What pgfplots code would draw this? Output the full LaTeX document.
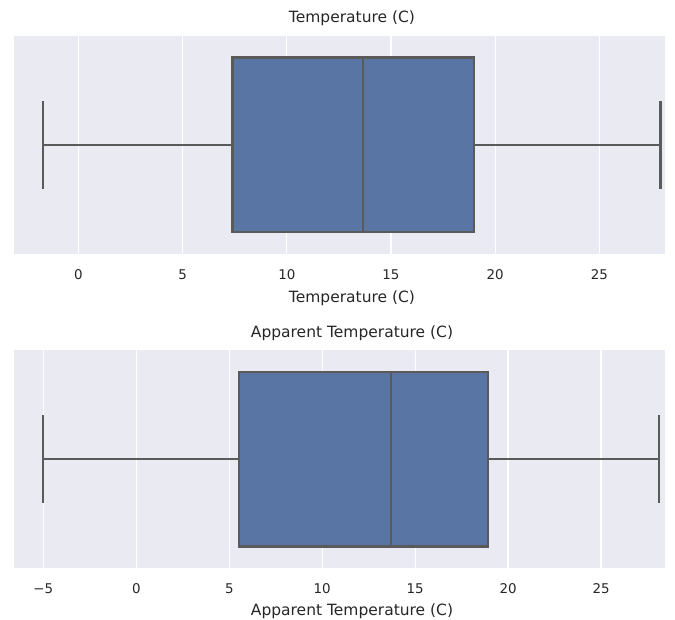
\documentclass[border=0pt]{standalone}
\usepackage{pgfplots}
\pgfplotsset{compat=1.18}
\usepgfplotslibrary{statistics}
\usepackage{fontspec}
\setmainfont{DejaVu Sans}
\definecolor{bg}{HTML}{EAEAF2}
\definecolor{boxblue}{HTML}{5975A4}
\definecolor{linegray}{HTML}{5A5A5A}
\definecolor{txt}{HTML}{262626}
\pgfplotsset{sbstyle/.style={
  scale only axis, width=651pt, height=218.3pt,
  axis background/.style={fill=bg},
  axis line style={draw=none},
  tick style={draw=none},
  ymin=-0.5, ymax=0.5, ytick=\empty,
  xmajorgrids, grid style={white, line width=1.3pt},
  /pgf/number format/assume math mode=true,
  xticklabel style={font=\fontsize{13.4}{14}\selectfont, text=txt, anchor=base, yshift=-25.5pt},
  xlabel style={font=\fontsize{15.5}{17}\selectfont, text=txt, at={(axis description cs:0.5,0)}, anchor=base, xshift=12.5pt},
  title style={font=\fontsize{15.5}{17}\selectfont, text=txt, at={(axis description cs:0.5,1)}, anchor=base, xshift=12.5pt},
  boxplot/draw direction=x,
}}
\begin{document}
\begin{tikzpicture}
\path[use as bounding box] (0,0) rectangle (675pt,619pt);
\begin{axis}[sbstyle, at={(14pt,365pt)}, anchor=south west,
  xmin=-3.09, xmax=28.15,
  xtick={0,5,10,15,20,25}, xticklabels={0,5,10,15,20,25},
  title={Temperature (C)}, title style={yshift=7.4pt},
  xlabel={Temperature (C)}, xlabel style={yshift=-49pt}]
\addplot[boxplot prepared={draw position=0, lower whisker=-1.68, lower quartile=7.40, median=13.67, upper quartile=18.98, upper whisker=27.93, box extend=0.8, whisker extend=0.4},
  draw=linegray, fill=boxblue, line width=2.2pt, solid] coordinates {};
\end{axis}
\begin{axis}[sbstyle, at={(14pt,50.7pt)}, anchor=south west,
  xmin=-6.58, xmax=28.44,
  xtick={-5,0,5,10,15,20,25}, xticklabels={−5,0,5,10,15,20,25},
  title={Apparent Temperature (C)}, title style={yshift=6.7pt},
  xlabel={Apparent Temperature (C)}, xlabel style={yshift=-46.7pt}]
\addplot[boxplot prepared={draw position=0, lower whisker=-5.0, lower quartile=5.52, median=13.72, upper quartile=18.90, upper whisker=28.13, box extend=0.8, whisker extend=0.4},
  draw=linegray, fill=boxblue, line width=2.2pt, solid] coordinates {};
\end{axis}
\end{tikzpicture}
\end{document}
